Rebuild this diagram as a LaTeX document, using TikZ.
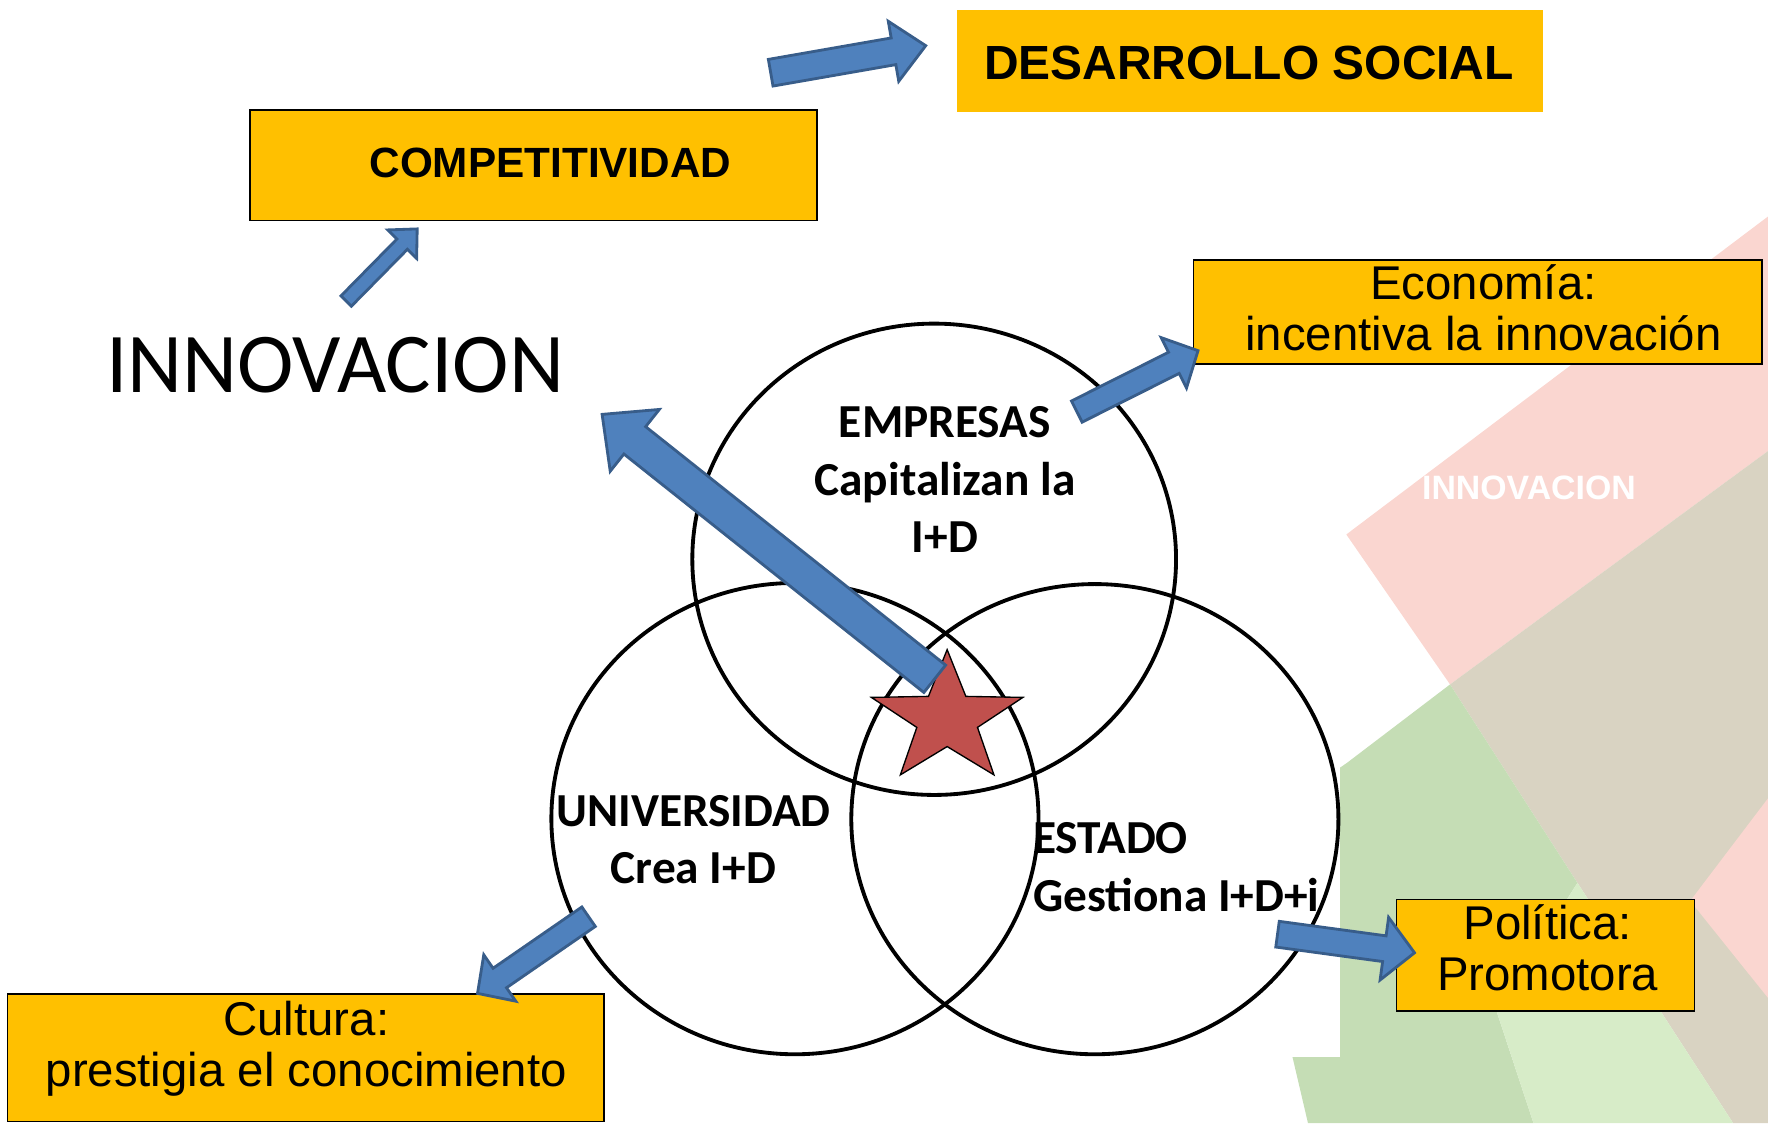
\documentclass[tikz,border=0pt]{standalone}
\usepackage{fontspec}
\setmainfont{Liberation Sans}
\newfontfamily\calibri{Carlito}
\usetikzlibrary{calc}

\definecolor{boxorange}{RGB}{255,192,0}
\definecolor{arrowfill}{RGB}{79,129,189}
\definecolor{arrowline}{RGB}{56,93,138}
\definecolor{starred}{RGB}{192,80,77}
\definecolor{bgpink}{RGB}{250,214,208}
\definecolor{bgbeige}{RGB}{217,211,194}
\definecolor{bggreen}{RGB}{197,221,181}
\definecolor{bglight}{RGB}{215,236,200}

\tikzset{
  arrshaft/.store in=\shaftw, arrhead/.store in=\headw, arrlen/.store in=\headlen,
  arrshaft=10pt, arrhead=25pt, arrlen=25pt,
  blockarrow/.style={fill=arrowfill, draw=arrowline, line width=2.5pt, line join=miter,
    to path={let \p1=($(\tikztotarget)!\headlen!(\tikztostart)$) in
      ($(\tikztostart)!\shaftw!90:(\tikztotarget)$)
      -- ($(\p1)!\shaftw!90:(\tikztotarget)$)
      -- ($(\p1)!\headw!90:(\tikztotarget)$)
      -- (\tikztotarget)
      -- ($(\p1)!\headw!-90:(\tikztotarget)$)
      -- ($(\p1)!\shaftw!-90:(\tikztotarget)$)
      -- ($(\tikztostart)!\shaftw!-90:(\tikztotarget)$)
      -- cycle}},
  orangebox/.style={rectangle, fill=boxorange, draw=black, line width=1.3pt, inner sep=0pt, anchor=north west},
  boxtext/.style={inner sep=0pt, align=center, font=\fontsize{42}{45}\selectfont},
  ring/.style={draw=black, line width=3.4pt},
  circtext/.style={inner sep=0pt, align=center, font=\calibri\bfseries\fontsize{42}{51}\selectfont}
}

\begin{document}
\begin{tikzpicture}[x=1pt, y=-1pt]
    \useasboundingbox (0,0) rectangle (1568,996);

    % --- background pattern on the right ---
    \fill[bgpink] (1194,474) -- (1568,192) -- (1568,400) -- (1286,607) -- cycle;
    \fill[bgbeige] (1286,607) -- (1568,400) -- (1568,996) -- (1537,996) -- (1399,783) -- cycle;
    \fill[bgpink] (1499,799) -- (1568,708) -- (1568,885) -- cycle;
    \fill[bggreen] (1286,607) -- (1399,783) -- (1327,896) -- (1360,996) -- (1160,996) -- (1100,740) -- (1194,677) -- cycle;
    \fill[bglight] (1399,783) -- (1537,996) -- (1360,996) -- (1327,896) -- cycle;
    \node[inner sep=0pt, text=white, font=\bfseries\fontsize{30}{32}\selectfont] (bgword) at (1356,433) {INNOVACION};
    \fill[white] (470,270) rectangle (1188,937);

    % --- three circles ---
    \draw[ring] (828.5,496) ellipse [x radius=214.5pt, y radius=209pt];
    \draw[ring] (705,726) ellipse [x radius=216pt, y radius=209pt];
    \draw[ring] (971,726.5) ellipse [x radius=216pt, y radius=208.5pt];

    \node[circtext] (emptext) at (838,425.5) {EMPRESAS\\Capitalizan la\\I+D};
    \node[circtext] (unitext) at (615,744.5) {UNIVERSIDAD\\Crea I+D};
    \node[circtext, align=left, anchor=west] (esttext) at (916,769) {ESTADO\\Gestiona I+D+i};

    \node[inner sep=0pt, anchor=base west, font=\calibri\fontsize{75.5}{80}\selectfont] (innov) at (94,348) {INNOVACION};

    % --- star in the middle ---
    \draw[fill=starred, draw=black, line width=1.2pt, line join=miter]
      (840,576.1) -- (856.6,617.6) -- (907.2,618.5) -- (866.9,645.1) -- (881.5,687.2)
      -- (840,662.1) -- (798.5,687.2) -- (813.1,645.1) -- (772.8,618.5) -- (823.4,617.6) -- cycle;

    % --- boxes ---
    \node[orangebox, draw=none, minimum width=520pt, minimum height=91pt] (desbox) at (848,8) {};
    \node[boxtext, font=\bfseries\fontsize{42.5}{45}\selectfont] (destext) at ($(desbox.center)+(-1,2)$) {DESARROLLO SOCIAL};

    \node[orangebox, minimum width=503pt, minimum height=98pt] (combox) at (221,97) {};
    \node[boxtext, font=\bfseries\fontsize{37.5}{40}\selectfont] (comtext) at ($(combox.center)+(15,-2)$) {COMPETITIVIDAD};

    \node[orangebox, minimum width=504pt, minimum height=92pt] (ecobox) at (1058,230) {};
    \node[boxtext] (ecotext) at ($(ecobox.center)+(5,-3.5)$) {Economía:\\incentiva la innovación};

    \node[orangebox, minimum width=264pt, minimum height=99pt] (polbox) at (1238,797) {};
    \node[boxtext] (poltext) at ($(polbox.center)+(2,-6.5)$) {Política:\\Promotora};

    \node[orangebox, minimum width=529pt, minimum height=113pt] (culbox) at (6,881) {};
    \node[boxtext] (cultext) at ($(culbox.center)+(0.5,-8)$) {Cultura:\\prestigia el conocimiento};

    % --- block arrows ---
    \coordinate (a1s) at (683.5,64.5);  \coordinate (a1e) at (821,40.5);
    \coordinate (a2s) at (307,267);     \coordinate (a2e) at (370,203);
    \coordinate (a3s) at (955,365);     \coordinate (a3e) at (1062.5,311);
    \coordinate (a4s) at (829,602);     \coordinate (a4e) at (534,367.5);
    \coordinate (a5s) at (522,813);     \coordinate (a5e) at (423.5,881);
    \coordinate (a6s) at (1133,828.5);  \coordinate (a6e) at (1254.5,845);

    \draw[blockarrow, arrshaft=12pt, arrhead=27pt, arrlen=29pt] (a1s) to (a1e);
    \draw[blockarrow, arrshaft=6.5pt, arrhead=18pt, arrlen=19pt] (a2s) to (a2e);
    \draw[blockarrow, arrshaft=10.5pt, arrhead=25pt, arrlen=24pt] (a3s) to (a3e);
    \draw[blockarrow, arrshaft=15.5pt, arrhead=35pt, arrlen=37pt] (a4s) to (a4e);
    \draw[blockarrow, arrshaft=10.5pt, arrhead=25pt, arrlen=24pt] (a5s) to (a5e);
    \draw[blockarrow, arrshaft=11.5pt, arrhead=28pt, arrlen=27pt] (a6s) to (a6e);

  \end{tikzpicture}
\end{document}
